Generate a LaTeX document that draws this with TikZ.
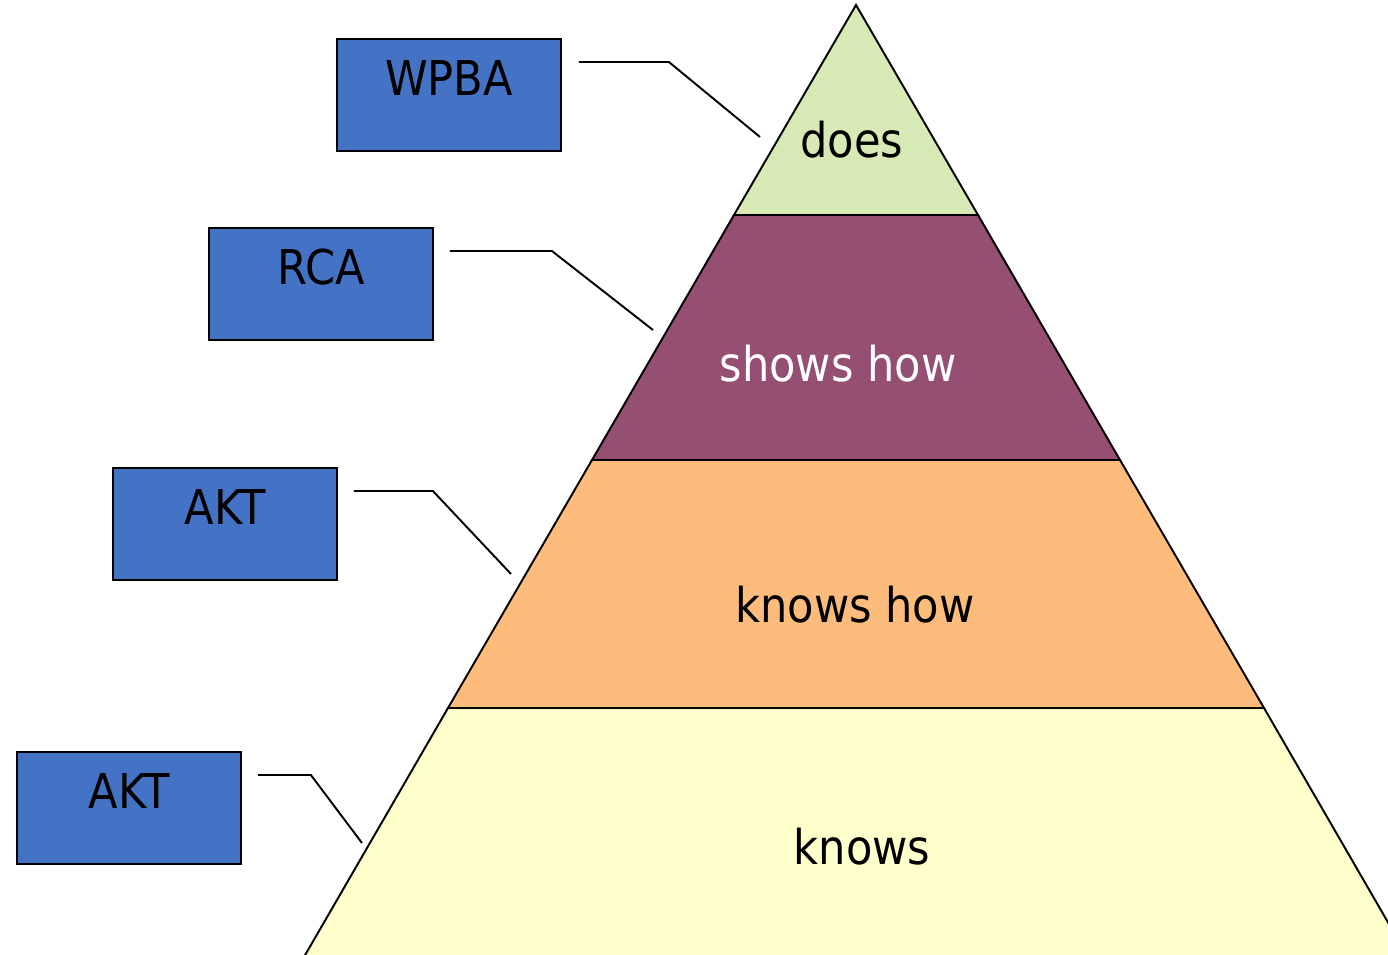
\documentclass[tikz,border=0pt]{standalone}
\usepackage{fontspec}
\setmainfont{DejaVu Sans}[FakeStretch=0.9]
\usetikzlibrary{calc}

\definecolor{doesgreen}{HTML}{D7E9B4}
\definecolor{showspurple}{HTML}{954F72}
\definecolor{knowsorange}{HTML}{FEBC7C}
\definecolor{knowsyellow}{HTML}{FFFFCC}
\definecolor{toolblue}{HTML}{4472C4}

\tikzset{
  toolbox/.style={rectangle, draw=black, line width=1.1pt, fill=toolblue, inner sep=0pt,
    minimum width=4.48cm, text height=1.14cm, text depth=1.1cm,
    font=\fontsize{27.3}{32}\selectfont},
  layer/.style={draw=black, line width=1.1pt},
  layertext/.style={anchor=base, inner sep=0pt, font=\fontsize{27.3}{32}\selectfont},
  link/.style={draw=black, line width=1.1pt}
}

\begin{document}
\begin{tikzpicture}[x=0.02cm, y=-0.02cm]
			\useasboundingbox (0,0) rectangle (1388,955);
			\clip (0,0) rectangle (1388,955);
			
			% Pyramid layers (apex at top)
			\filldraw[layer, fill=knowsyellow] (448,708) -- (1264,708) -- (1430,995) -- (282,995) -- cycle;
			\filldraw[layer, fill=knowsorange] (592,460) -- (1120,460) -- (1264,708) -- (448,708) -- cycle;
			\filldraw[layer, fill=showspurple] (734,215) -- (978,215) -- (1120,460) -- (592,460) -- cycle;
			\filldraw[layer, fill=doesgreen] (856,5) -- (978,215) -- (734,215) -- cycle;
			
			% Layer labels
			\node[layertext] (does) at (852,158) {does};
			\node[layertext, text=white] (showshow) at (838,382) {shows how};
			\node[layertext] (knowshow) at (855,622) {knows how};
			\node[layertext] (knows) at (862,864) {knows};
			
			% Assessment boxes
			\node[toolbox, anchor=north west] (wpba) at (336,38) {WPBA};
			\node[toolbox, anchor=north west] (rca) at (208,227) {RCA};
			\node[toolbox, anchor=north west] (akta) at (112,467) {AKT};
			\node[toolbox, anchor=north west] (aktb) at (16,751) {AKT};
			
			% Ends of the leader lines
			\coordinate (wpba-s) at ($(wpba.north east)+(17,24)$);
			\coordinate (rca-s) at ($(rca.north east)+(16,24)$);
			\coordinate (akta-s) at ($(akta.north east)+(16,24)$);
			\coordinate (aktb-s) at ($(aktb.north east)+(16,24)$);
			\coordinate (wpba-e) at (760,137);
			\coordinate (rca-e) at (653,330);
			\coordinate (akta-e) at (511,574);
			\coordinate (aktb-e) at (362,843);
			
			% Leader lines from boxes to layers
			\draw[link] (wpba-s) -- ++(90,0) -- (wpba-e);
			\draw[link] (rca-s) -- ++(102,0) -- (rca-e);
			\draw[link] (akta-s) -- ++(79,0) -- (akta-e);
			\draw[link] (aktb-s) -- ++(53,0) -- (aktb-e);
		\end{tikzpicture}
\end{document}
